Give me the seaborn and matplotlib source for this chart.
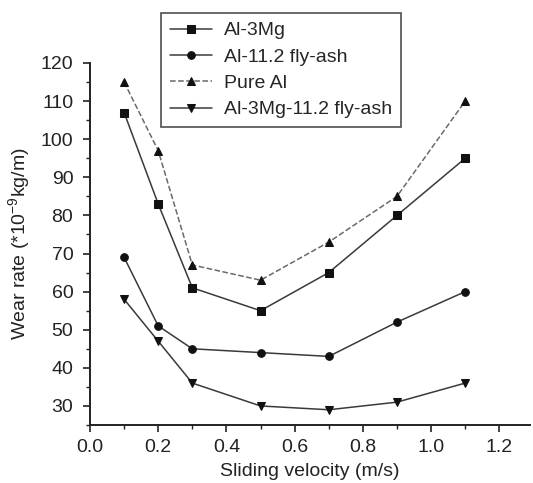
import matplotlib
matplotlib.use("Agg")
import matplotlib.pyplot as plt
import seaborn as sns
import pandas as pd
from matplotlib.ticker import MultipleLocator

velocity = [0.1, 0.2, 0.3, 0.5, 0.7, 0.9, 1.1]
al_3mg = [107, 83, 61, 55, 65, 80, 95]
al_flyash = [69, 51, 45, 44, 43, 52, 60]
pure_al = [115, 97, 67, 63, 73, 85, 110]
al_3mg_flyash = [58, 47, 36, 30, 29, 31, 36]

series_names = ["Al-3Mg", "Al-11.2 fly-ash", "Pure Al", "Al-3Mg-11.2 fly-ash"]
series_values = [al_3mg, al_flyash, pure_al, al_3mg_flyash]
markers = ["s", "o", "^", "v"]
linestyles = ["-", "-", "--", "-"]
line_colors = ["#3a3a3a", "#3a3a3a", "#6a6a6a", "#3a3a3a"]

sns.set_theme(style="ticks")
plt.rcParams["font.family"] = ["Liberation Sans", "DejaVu Sans"]
plt.rcParams["mathtext.fontset"] = "custom"
plt.rcParams["mathtext.rm"] = "Liberation Sans"
plt.rcParams["mathtext.it"] = "Liberation Sans:italic"

fig = plt.figure(figsize=(5.33, 4.83), dpi=100)
ax = fig.add_axes([90/533, 1-425/483, 440/533, 362/483])

for name, vals, m, ls, c in zip(series_names, series_values, markers, linestyles, line_colors):
    df = pd.DataFrame({"v": velocity, "w": vals})
    sns.lineplot(data=df, x="v", y="w", ax=ax, marker=m, linestyle=ls, color=c,
                 markerfacecolor="#111111", markeredgecolor="#111111",
                 markersize=5.5, linewidth=1.1, label=name)

ax.set_xlim(0, 1.29)
ax.set_ylim(25, 120)
ax.xaxis.set_minor_locator(MultipleLocator(0.1))
ax.yaxis.set_minor_locator(MultipleLocator(5))
ax.set_xticks([0.0, 0.2, 0.4, 0.6, 0.8, 1.0, 1.2])
ax.set_xticklabels(["0.0", "0.2", "0.4", "0.6", "0.8", "1.0", "1.2"])
ax.set_yticks([30, 40, 50, 60, 70, 80, 90, 100, 110, 120])
ax.tick_params(axis="both", which="major", direction="out", length=5, width=1.2,
               labelsize=14, color="#222222", labelcolor="#222222")
ax.tick_params(axis="y", which="major", pad=7)
ax.tick_params(axis="x", which="major", pad=5)
ax.tick_params(axis="both", which="minor", direction="out", length=3, width=1.0, color="#222222")
for s in ["top", "right"]:
    ax.spines[s].set_visible(False)
for s in ["left", "bottom"]:
    ax.spines[s].set_linewidth(1.4)
    ax.spines[s].set_color("#222222")

ax.set_xlabel("Sliding velocity (m/s)", fontsize=14, color="#222222", labelpad=5)
ax.set_ylabel("Wear rate (*10$^{-9}$kg/m)", fontsize=14, color="#222222", labelpad=6)

leg = ax.legend(loc="upper left", bbox_to_anchor=(0.161, 1.138), borderaxespad=0,
                fontsize=14, frameon=True, fancybox=False, handlelength=2.2,
                handletextpad=0.6, labelspacing=0.45, borderpad=0.45)
leg.get_frame().set_edgecolor("#222222")
leg.get_frame().set_linewidth(1.2)
leg.set_clip_on(False)

fig.savefig("out.png", dpi=100)
